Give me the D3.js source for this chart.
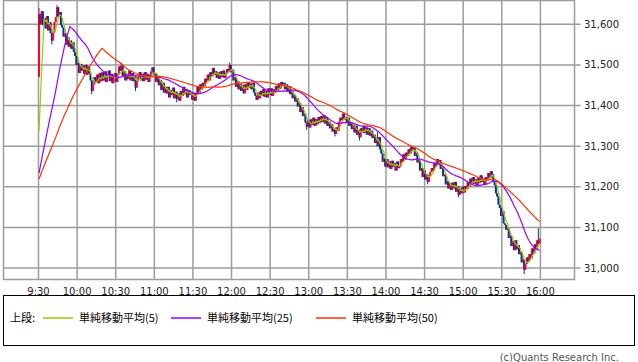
<!DOCTYPE html>
<html>
<head>
<meta charset="utf-8">
<script src="https://cdn.jsdelivr.net/npm/d3@7/dist/d3.min.js"></script>
<style>
  body { margin: 0; background: #fff; }
  svg { display: block; }
</style>
</head>
<body>
<div id="chart"></div>
<script>
// 1-minute bars, 9:30 -> 15:59
const startMinute = 570; // 9:30
const firstOpen = 31470;
const closes = [
  31625, 31600, 31632, 31598, 31615, 31590, 31620, 31585, 31605, 31578,
  31560, 31580, 31605, 31618, 31642, 31620, 31630, 31598, 31592, 31570,
  31578, 31550, 31568, 31545, 31560, 31540, 31555, 31532, 31522, 31500,
  31505, 31480, 31502, 31486, 31498, 31478, 31500, 31476, 31496, 31480,
  31462, 31436, 31452, 31470, 31458, 31476, 31455, 31480, 31460, 31482,
  31462, 31484, 31458, 31476, 31486, 31460, 31478, 31455, 31474, 31480,
  31458, 31476, 31496, 31485, 31500, 31472, 31484, 31462, 31478, 31466,
  31486, 31462, 31480, 31460, 31474, 31444, 31460, 31470, 31482, 31462,
  31478, 31460, 31482, 31464, 31478, 31458, 31474, 31484, 31494, 31476,
  31480, 31458, 31472, 31450, 31462, 31438, 31456, 31432, 31446, 31430,
  31446, 31420, 31438, 31426, 31444, 31418, 31434, 31416, 31430, 31412,
  31436, 31424, 31446, 31428, 31440, 31420, 31438, 31426, 31432, 31414,
  31428, 31412, 31432, 31446, 31430, 31452, 31440, 31456, 31448, 31466,
  31458, 31476, 31462, 31482, 31472, 31492, 31476, 31484, 31468, 31482,
  31466, 31484, 31470, 31486, 31468, 31478, 31490, 31484, 31500, 31482,
  31488, 31462, 31470, 31446, 31460, 31440, 31454, 31436, 31450, 31430,
  31452, 31438, 31458, 31444, 31454, 31440, 31456, 31432, 31424, 31414,
  31432, 31418, 31436, 31424, 31440, 31422, 31436, 31420, 31442, 31426,
  31442, 31424, 31440, 31432, 31448, 31436, 31454, 31442, 31458, 31448,
  31456, 31440, 31452, 31434, 31448, 31428, 31436, 31418, 31426, 31410,
  31418, 31398, 31406, 31384, 31396, 31374, 31380, 31358, 31348, 31364,
  31346, 31366, 31352, 31370, 31350, 31366, 31354, 31372, 31358, 31374,
  31360, 31376, 31356, 31372, 31350, 31360, 31344, 31354, 31336, 31342,
  31330, 31346, 31338, 31360, 31370, 31364, 31380, 31366, 31372, 31358,
  31370, 31350, 31358, 31342, 31352, 31334, 31350, 31328, 31340, 31322,
  31344, 31334, 31350, 31332, 31346, 31328, 31344, 31326, 31338, 31320,
  31328, 31308, 31316, 31300, 31322, 31292, 31282, 31262, 31270, 31250,
  31268, 31248, 31262, 31244, 31264, 31250, 31258, 31240, 31262, 31246,
  31250, 31268, 31262, 31280, 31266, 31284, 31276, 31292, 31282, 31298,
  31290, 31296, 31276, 31284, 31260, 31266, 31240, 31246, 31224, 31240,
  31218, 31230, 31212, 31226, 31236, 31246, 31240, 31258, 31250, 31268,
  31254, 31266, 31244, 31248, 31226, 31230, 31206, 31214, 31196, 31208,
  31192, 31210, 31196, 31212, 31188, 31202, 31180, 31196, 31184, 31200,
  31186, 31202, 31194, 31212, 31200, 31220, 31206, 31224, 31208, 31218,
  31204, 31222, 31210, 31228, 31212, 31220, 31206, 31224, 31216, 31234,
  31222, 31238, 31230, 31212, 31204, 31184, 31176, 31156, 31148, 31128,
  31140, 31110, 31106, 31094, 31098, 31074, 31080, 31054, 31066, 31044,
  31068, 31046, 31056, 31034, 31040, 31014, 31022, 30996, 31010, 31026,
  31016, 31034, 31024, 31048, 31036, 31058, 31046, 31068, 31060, 31072
];
// previous session closes, only used to seed the moving averages
const priorCloses = [
  31198, 31204, 31210, 31202, 31196, 31206, 31212, 31208, 31200, 31194,
  31202, 31210, 31216, 31206, 31198, 31204, 31210, 31200, 31196, 31204,
  31212, 31208, 31200, 31206, 31204,
  31202, 31210, 31214, 31206, 31200, 31208, 31216, 31212, 31204, 31198,
  31206, 31214, 31220, 31210, 31202, 31208, 31214, 31206, 31200, 31210,
  31240, 31258, 31272, 31290
];
// wicks that stick out past the body: [bar index, price]
const highMarks = [[0, 31640], [14, 31648], [64, 31506], [148, 31506], [263, 31334], [388, 31098]];
const lowMarks = [[10, 31550], [41, 31428], [75, 31436], [107, 31408], [208, 31340],
                  [230, 31324], [249, 31314], [302, 31206], [326, 31174], [377, 30985]];

const yTicks = [31000, 31100, 31200, 31300, 31400, 31500, 31600];
const xTickLabels = ['9:30', '10:00', '10:30', '11:00', '11:30', '12:00', '12:30',
                     '13:00', '13:30', '14:00', '14:30', '15:00', '15:30', '16:00'];
const maPeriods = [5, 25, 50];
const maLabels = ['単純移動平均(5)', '単純移動平均(25)', '単純移動平均(50)'];
const maColors = ['#99cc00', '#9900ff', '#ff3300'];

const svgWidth = 638;
const svgHeight = 362;
const plot = {left: 3.5, right: 574.5, top: 0.5, bottom: 279.5};
const gridColor = '#9c9c9c';
const upColor = '#ff0038';
const downColor = '#003399';

const x = d3.scaleLinear().domain([570, 960]).range([38.5, 540.4]);
const y = d3.scaleLinear().domain([31000, 31600]).range([268, 24.3]);

const toMinute = s => { const p = s.split(':'); return +p[0] * 60 + +p[1]; };

// build OHLC bars
const highMap = new Map(highMarks), lowMap = new Map(lowMarks);
const bars = closes.map((c, i) => {
  const o = i === 0 ? firstOpen : closes[i - 1];
  return {
    i: i, o: o, c: c,
    h: Math.max(o, c, highMap.get(i) || -Infinity),
    l: Math.min(o, c, lowMap.get(i) || Infinity)
  };
});

// simple moving averages seeded by the prior session
const allCloses = priorCloses.concat(closes);
const sma = n => closes.map((c, i) => {
  const end = priorCloses.length + i + 1;
  return d3.mean(allCloses.slice(end - n, end));
});

const svg = d3.select('#chart').append('svg')
  .attr('width', svgWidth).attr('height', svgHeight)
  .style('font-family', '"DejaVu Sans", sans-serif');

svg.append('defs').append('clipPath').attr('id', 'clip')
  .append('rect')
  .attr('x', plot.left).attr('y', plot.top)
  .attr('width', plot.right - plot.left).attr('height', plot.bottom - plot.top);

// grid
const grid = svg.append('g').attr('stroke', gridColor).attr('stroke-width', 1.5);
xTickLabels.forEach(t => {
  const gx = x(toMinute(t));
  grid.append('line').attr('x1', gx).attr('x2', gx).attr('y1', plot.top).attr('y2', plot.bottom);
});
yTicks.forEach(v => {
  grid.append('line').attr('x1', plot.left).attr('x2', plot.right + 6).attr('y1', y(v)).attr('y2', y(v));
});
grid.append('rect')
  .attr('x', plot.left).attr('y', plot.top)
  .attr('width', plot.right - plot.left).attr('height', plot.bottom - plot.top)
  .attr('fill', 'none');

// tick labels
svg.append('g').selectAll('text').data(yTicks).join('text')
  .attr('x', 584).attr('y', d => y(d)).attr('dy', '0.35em')
  .attr('font-size', 10).attr('fill', '#222')
  .text(d3.format(','));
svg.append('g').selectAll('text').data(xTickLabels).join('text')
  .attr('x', d => x(toMinute(d))).attr('y', 295)
  .attr('text-anchor', 'middle').attr('font-size', 10).attr('fill', '#222')
  .text(d => d);

// candles
const cw = 2;
const candles = svg.append('g').attr('clip-path', 'url(#clip)');
bars.forEach(b => {
  const cx = x(startMinute + b.i) + 0.5;
  const col = b.c >= b.o ? upColor : downColor;
  candles.append('line')
    .attr('x1', cx).attr('x2', cx).attr('y1', y(b.h)).attr('y2', y(b.l))
    .attr('stroke', col).attr('stroke-width', 1);
  const top = y(Math.max(b.o, b.c)), bot = y(Math.min(b.o, b.c));
  candles.append('rect')
    .attr('x', cx - cw / 2).attr('y', top)
    .attr('width', cw).attr('height', Math.max(1.5, bot - top))
    .attr('fill', col);
});

// moving averages
const line = d3.line().x((d, i) => x(startMinute + i) + 0.5).y(d => y(d));
const maG = svg.append('g').attr('clip-path', 'url(#clip)');
maPeriods.forEach((n, k) => {
  maG.append('path').datum(sma(n))
    .attr('d', line).attr('fill', 'none')
    .attr('stroke', maColors[k]).attr('stroke-width', 1.2);
});

// legend box
const legend = svg.append('g');
legend.append('rect')
  .attr('x', 3.5).attr('y', 295.5).attr('width', 631).attr('height', 50)
  .attr('fill', 'none').attr('stroke', '#000');
const cjk = '"Noto Sans CJK JP", "DejaVu Sans", sans-serif';
legend.append('text').attr('x', 10).attr('y', 322)
  .attr('font-family', cjk).attr('font-size', 11).attr('fill', '#000')
  .text('上段:');
const legendX = [43, 171, 316];
maLabels.forEach((lab, k) => {
  legend.append('line')
    .attr('x1', legendX[k]).attr('x2', legendX[k] + 30).attr('y1', 318).attr('y2', 318)
    .attr('stroke', maColors[k]).attr('stroke-width', 1.5);
  legend.append('text').attr('x', legendX[k] + 36).attr('y', 322)
    .attr('font-family', cjk).attr('font-size', 11).attr('fill', '#000')
    .text(lab);
});

svg.append('text').attr('x', 619).attr('y', 361)
  .attr('text-anchor', 'end').attr('font-size', 10).attr('fill', '#555')
  .text('(c)Quants Research Inc.');
</script>
</body>
</html>
